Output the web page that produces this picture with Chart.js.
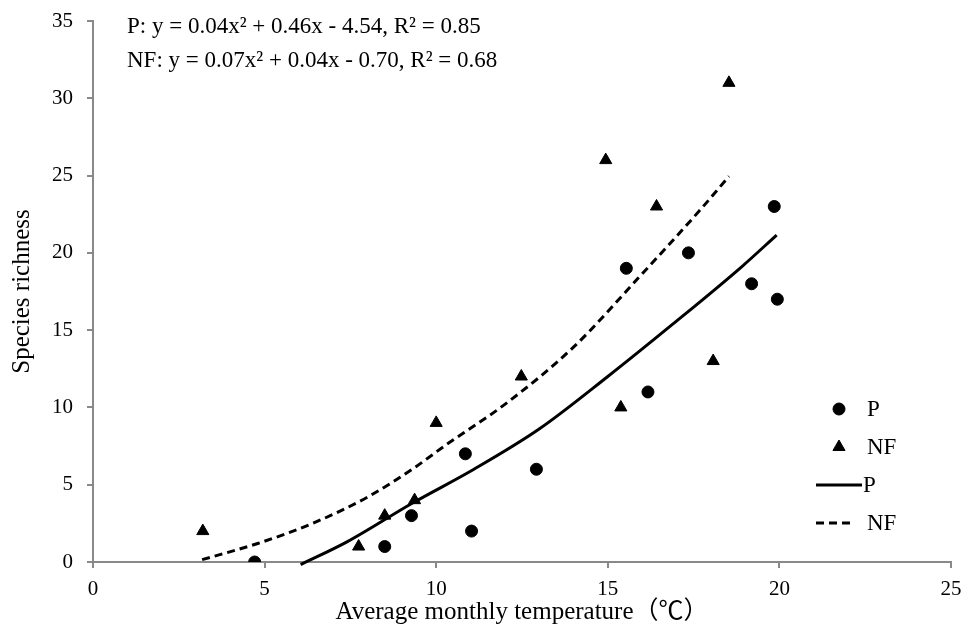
<!DOCTYPE html>
<html>
<head>
<meta charset="utf-8">
<script src="https://cdn.jsdelivr.net/npm/chart.js@4.4.1/dist/chart.umd.min.js"></script>
<style>
html, body { margin: 0; padding: 0; background: #fff; }
#wrap { width: 964px; height: 628px; }
</style>
</head>
<body>
<div id="wrap"><canvas id="chart"></canvas></div>
<script>
// observed points
const pTemp = [4.71, 8.5, 9.28, 10.85, 11.03, 12.92, 15.54, 16.17, 17.35, 19.19, 19.85, 19.94];
const pRichness = [0, 1, 3, 7, 2, 6, 19, 11, 20, 18, 23, 17];
const nfTemp = [3.2, 7.74, 8.5, 9.37, 10.0, 12.48, 14.94, 15.38, 16.42, 18.07, 18.53];
const nfRichness = [2, 1, 3, 4, 9, 12, 26, 10, 23, 13, 31];

// trend curves
const pFitTemp = [6.05, 7.4, 9.3, 11.1, 13.0, 15.0, 16.9, 18.9, 19.92];
const pFitRichness = [-0.17, 1.3, 3.8, 6.0, 8.6, 12.0, 15.4, 19.1, 21.15];
const nfFitTemp = [3.18, 4.8, 6.4, 8.0, 9.3, 10.3, 12.0, 14.0, 15.9, 17.7, 18.53];
const nfFitRichness = [0.15, 1.2, 2.5, 4.2, 6.0, 7.6, 10.2, 13.9, 18.4, 22.8, 24.95];

const equations = [
    "P: y = 0.04x\u00b2 + 0.46x - 4.54, R\u00b2 = 0.85",
    "NF: y = 0.07x\u00b2 + 0.04x - 0.70, R\u00b2 = 0.68"
];
const legendLabels = ["P", "NF", "P", "NF"];

const axisColor = "#898989";
const serif = "'Liberation Serif', 'Times New Roman', 'Noto Sans CJK SC', serif";

function toPoints(xs, ys) {
    return xs.map((x, i) => ({ x: x, y: ys[i] }));
}

const equationPlugin = {
    id: "equations",
    afterDraw(chart) {
        const ctx = chart.ctx;
        const area = chart.chartArea;
        ctx.save();
        ctx.fillStyle = "#000";
        ctx.font = "23px " + serif;
        ctx.textBaseline = "middle";
        ctx.textAlign = "left";
        equations.forEach((t, i) => {
            ctx.fillText(t, area.left + 34, area.top + 6 + i * 34);
        });
        ctx.restore();
    }
};

const legendPlugin = {
    id: "sideLegend",
    afterDraw(chart) {
        const ctx = chart.ctx;
        const area = chart.chartArea;
        const x0 = area.right - 112;
        const y0 = area.bottom - 153;
        ctx.save();
        ctx.font = "23px " + serif;
        ctx.textBaseline = "middle";
        ctx.textAlign = "left";
        ctx.fillStyle = "#000";
        chart.data.datasets.forEach((ds, i) => {
            const y = y0 + i * 38;
            if (ds.showLine) {
                ctx.strokeStyle = ds.borderColor;
                ctx.lineWidth = ds.borderWidth;
                ctx.setLineDash(ds.borderDash || []);
                ctx.beginPath();
                ctx.moveTo(x0 - 23, y);
                ctx.lineTo(ds.borderDash ? x0 + 16 : x0 + 23, y);
                ctx.stroke();
                ctx.setLineDash([]);
                ctx.fillText(legendLabels[i], ds.borderDash ? x0 + 28 : x0 + 24, y + 1);
            } else {
                Chart.helpers.drawPoint(ctx, {
                    pointStyle: ds.pointStyle,
                    radius: ds.pointRadius,
                    rotation: 0,
                    borderWidth: 1
                }, x0, y);
                ctx.fillText(legendLabels[i], x0 + 28, y + 1);
            }
        });
        ctx.restore();
    }
};

new Chart(document.getElementById("chart"), {
    type: "scatter",
    data: {
        datasets: [
            {
                label: "P",
                data: toPoints(pTemp, pRichness),
                pointStyle: "circle",
                pointRadius: 6,
                backgroundColor: "#000",
                borderColor: "#000",
                showLine: false
            },
            {
                label: "NF",
                data: toPoints(nfTemp, nfRichness),
                pointStyle: "triangle",
                pointRadius: 7,
                backgroundColor: "#000",
                borderColor: "#000",
                showLine: false
            },
            {
                label: "P fit",
                data: toPoints(pFitTemp, pFitRichness),
                showLine: true,
                pointRadius: 0,
                borderColor: "#000",
                borderWidth: 3,
                cubicInterpolationMode: "monotone",
                clip: false
            },
            {
                label: "NF fit",
                data: toPoints(nfFitTemp, nfFitRichness),
                showLine: true,
                pointRadius: 0,
                borderColor: "#000",
                borderWidth: 3,
                borderDash: [8, 5],
                cubicInterpolationMode: "monotone",
                clip: false
            }
        ]
    },
    options: {
        responsive: true,
        maintainAspectRatio: false,
        animation: false,
        layout: { padding: { left: 0, right: 13, top: 21, bottom: 0 } },
        plugins: {
            legend: { display: false },
            tooltip: { enabled: false }
        },
        scales: {
            x: {
                type: "linear",
                min: 0,
                max: 25,
                ticks: { stepSize: 5, color: "#000", font: { family: serif, size: 21 }, padding: 9, maxRotation: 0 },
                grid: { drawOnChartArea: false, drawTicks: true, tickLength: 6, color: axisColor, lineWidth: 2 },
                border: { color: axisColor, width: 2 },
                title: {
                    display: true,
                    text: "Average monthly temperature\uff08\u2103\uff09",
                    color: "#000",
                    font: { family: serif, size: 25 },
                    padding: { top: 0, bottom: 1 }
                },
                afterFit(scale) {
                    scale.height = 66;
                    scale.paddingLeft = 0;
                    scale.paddingRight = 0;
                }
            },
            y: {
                min: 0,
                max: 35,
                ticks: { stepSize: 5, color: "#000", font: { family: serif, size: 21 }, padding: 14 },
                grid: { drawOnChartArea: false, drawTicks: true, tickLength: 6, color: axisColor, lineWidth: 2 },
                border: { color: axisColor, width: 2 },
                title: {
                    display: true,
                    text: "Species richness",
                    color: "#000",
                    font: { family: serif, size: 25 },
                    padding: { top: 7, bottom: 0 }
                },
                afterFit(scale) {
                    scale.width = 93;
                    scale.paddingTop = 0;
                    scale.paddingBottom = 0;
                }
            }
        }
    },
    plugins: [equationPlugin, legendPlugin]
});
</script>
</body>
</html>
